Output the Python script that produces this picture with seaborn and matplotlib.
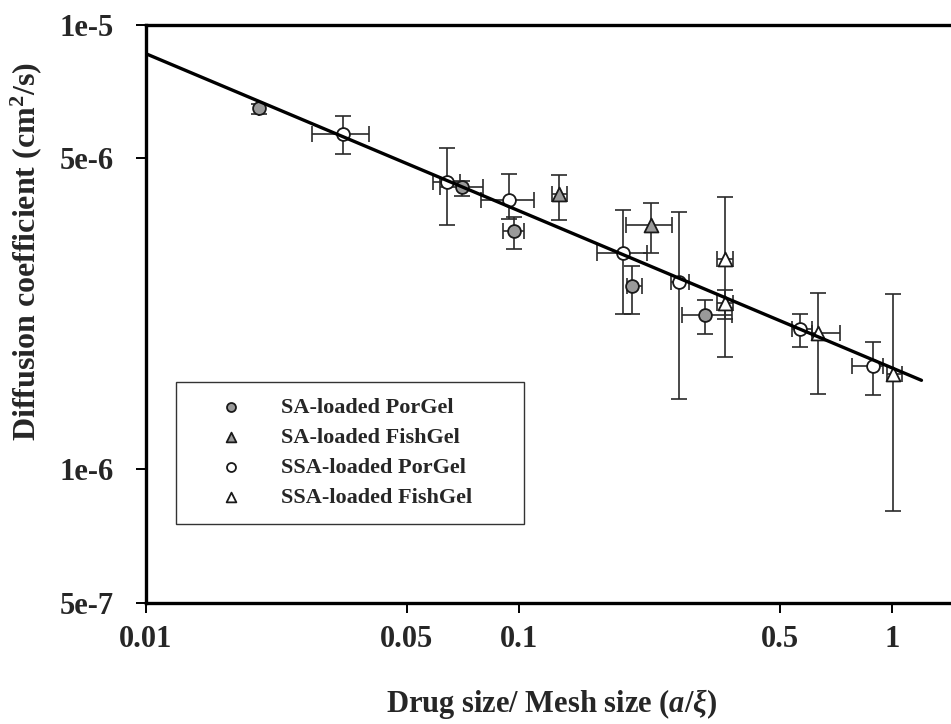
import numpy as np
import pandas as pd
import matplotlib
matplotlib.use("Agg")
import matplotlib.pyplot as plt
import seaborn as sns
from matplotlib.ticker import FixedLocator, FixedFormatter, NullLocator

# values (x = a/xi, y = D in cm2/s), with error bar ends
sa_por_x = [0.0201, 0.0704, 0.0970, 0.2009, 0.3152]
sa_por_xlo = [0.0201, 0.0614, 0.0906, 0.1948, 0.2735]
sa_por_xhi = [0.0201, 0.0801, 0.1031, 0.2137, 0.3724]
sa_por_y = [6.48e-6, 4.32e-6, 3.44e-6, 2.58e-6, 2.22e-6]
sa_por_ylo = [6.30e-6, 4.12e-6, 3.13e-6, 2.24e-6, 2.01e-6]
sa_por_yhi = [6.62e-6, 4.46e-6, 3.70e-6, 2.87e-6, 2.40e-6]

sa_fish_x = [0.1280, 0.2259]
sa_fish_xlo = [0.1226, 0.1936]
sa_fish_xhi = [0.1345, 0.2572]
sa_fish_y = [4.15e-6, 3.55e-6]
sa_fish_ylo = [3.64e-6, 3.07e-6]
sa_fish_yhi = [4.60e-6, 3.98e-6]

ssa_por_x = [0.03375, 0.0641, 0.0940, 0.1901, 0.2685, 0.5667, 0.8894]
ssa_por_xlo = [0.02786, 0.0588, 0.0791, 0.1618, 0.2556, 0.5394, 0.7811]
ssa_por_xhi = [0.0396, 0.0694, 0.1097, 0.2204, 0.2856, 0.6101, 0.9461]
ssa_por_y = [5.69e-6, 4.42e-6, 4.04e-6, 3.07e-6, 2.64e-6, 2.07e-6, 1.71e-6]
ssa_por_ylo = [5.13e-6, 3.55e-6, 3.66e-6, 2.23e-6, 1.436e-6, 1.88e-6, 1.466e-6]
ssa_por_yhi = [6.22e-6, 5.27e-6, 4.62e-6, 3.83e-6, 3.79e-6, 2.23e-6, 1.93e-6]

ssa_fish_x = [0.3566, 0.3566, 0.6332, 1.006]
ssa_fish_xlo = [0.3396, 0.3396, 0.6101, 0.9697]
ssa_fish_xhi = [0.3748, 0.3748, 0.7254, 1.063]
ssa_fish_y = [2.97e-6, 2.36e-6, 2.02e-6, 1.635e-6]
ssa_fish_ylo = [1.786e-6, 2.18e-6, 1.48e-6, 8.06e-7]
ssa_fish_yhi = [4.10e-6, 2.53e-6, 2.49e-6, 2.48e-6]

# power-law fit, two ends
fit_x = [0.01, 1.20]
fit_y = [8.6e-6, 1.585e-6]

x_ticks = [0.01, 0.05, 0.1, 0.5, 1]
x_tick_labels = ["0.01", "0.05", "0.1", "0.5", "1"]
y_ticks = [5e-7, 1e-6, 5e-6, 1e-5]
y_tick_labels = ["5e-7", "1e-6", "5e-6", "1e-5"]

sns.set_theme(style="white")
plt.rcParams['font.family'] = ['Liberation Serif', 'DejaVu Serif']
plt.rcParams['font.weight'] = 'bold'
plt.rcParams['mathtext.fontset'] = 'custom'
plt.rcParams['mathtext.rm'] = 'Liberation Serif:bold'
plt.rcParams['mathtext.it'] = 'Liberation Serif:bold:italic'

fig = plt.figure(figsize=(9.51, 7.24), dpi=100)
ax = fig.add_axes([0.1535, 0.167, 0.8465, 0.799])

series = [
    ("SA-loaded PorGel", "o", "#9a9a9a", 85, sa_por_x, sa_por_xlo, sa_por_xhi, sa_por_y, sa_por_ylo, sa_por_yhi),
    ("SA-loaded FishGel", "^", "#9a9a9a", 100, sa_fish_x, sa_fish_xlo, sa_fish_xhi, sa_fish_y, sa_fish_ylo, sa_fish_yhi),
    ("SSA-loaded PorGel", "o", "white", 85, ssa_por_x, ssa_por_xlo, ssa_por_xhi, ssa_por_y, ssa_por_ylo, ssa_por_yhi),
    ("SSA-loaded FishGel", "^", "white", 100, ssa_fish_x, ssa_fish_xlo, ssa_fish_xhi, ssa_fish_y, ssa_fish_ylo, ssa_fish_yhi),
]

for name, mk, fc, sz, x, xlo, xhi, y, ylo, yhi in series:
    x = np.array(x); y = np.array(y)
    xerr = [x - np.array(xlo), np.array(xhi) - x]
    yerr = [y - np.array(ylo), np.array(yhi) - y]
    ax.errorbar(x, y, xerr=xerr, yerr=yerr, fmt='none', ecolor='#2a2a2a',
                elinewidth=1.2, capsize=6, capthick=1.2, zorder=2)
    sns.scatterplot(x=x, y=y, marker=mk, s=sz, color=fc, edgecolor='#1a1a1a',
                    linewidth=1.3, label=name, zorder=3, ax=ax)

sns.lineplot(x=fit_x, y=fit_y, color='black', linewidth=2.4, zorder=4, ax=ax, legend=False)

ax.set_xscale('log')
ax.set_yscale('log')
ax.set_xlim(0.01, 1.44)
ax.set_ylim(5e-7, 1e-5)

ax.xaxis.set_major_locator(FixedLocator(x_ticks))
ax.xaxis.set_major_formatter(FixedFormatter(x_tick_labels))
ax.xaxis.set_minor_locator(NullLocator())
ax.yaxis.set_major_locator(FixedLocator(y_ticks))
ax.yaxis.set_major_formatter(FixedFormatter(y_tick_labels))
ax.yaxis.set_minor_locator(NullLocator())
ax.tick_params(axis='both', direction='out', length=7, width=1.4, color='black',
               labelsize=22, bottom=True, left=True)
ax.tick_params(axis='x', pad=9)
ax.tick_params(axis='y', pad=16)

for side in ['left', 'bottom', 'top']:
    ax.spines[side].set_linewidth(2.4)
    ax.spines[side].set_color('black')
ax.spines['right'].set_visible(False)

ax.set_xlabel(r"Drug size/ Mesh size ($\mathit{a}$/$\mathit{\xi}$)", fontsize=22,
              fontweight='bold')
ax.set_ylabel(r"Diffusion coefficient (cm$^{2}$/s)", fontsize=23,
              fontweight='bold')
ax.xaxis.set_label_coords(0.504, -0.145)
ax.yaxis.set_label_coords(-0.127, 0.607)

leg = ax.legend(loc='lower left', bbox_to_anchor=(0.0373, 0.137, 0.432, 0.242),
                mode='expand', frameon=True, fancybox=False, edgecolor='black',
                prop={'family': 'Liberation Serif', 'weight': 'bold', 'size': 16},
                markerscale=0.7, borderpad=0.72, labelspacing=0.42,
                handlelength=3.5, handletextpad=0.5, borderaxespad=0)
leg.get_frame().set_linewidth(1.0)

fig.savefig("out.png", dpi=100)
